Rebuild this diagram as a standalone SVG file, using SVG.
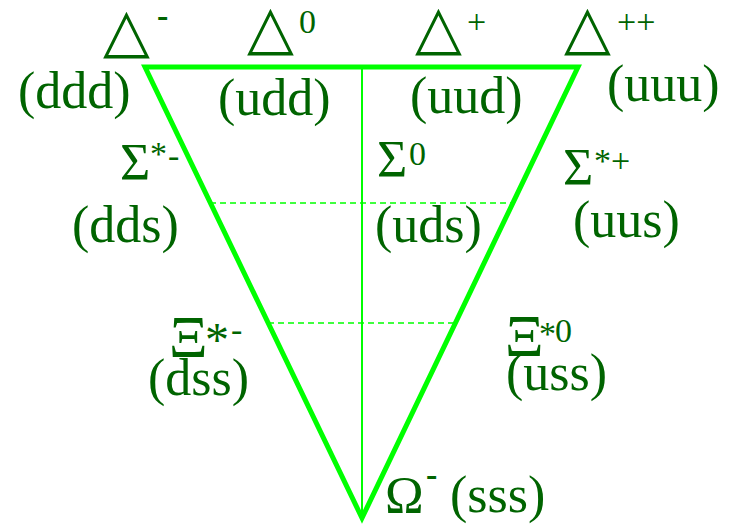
<svg xmlns="http://www.w3.org/2000/svg" width="729" height="525" viewBox="0 0 729 525">
<style>
.t{font-family:"Liberation Serif","Times New Roman",serif;fill:#006400;font-size:52px}
.x{font-size:60px}
.s{font-family:"Liberation Serif","Times New Roman",serif;fill:#006400;font-size:34px}
.b{font-weight:bold}
.d{font-family:"DejaVu Sans",sans-serif;fill:#006400;font-size:61px}
.edge{fill:none;stroke:#00ff00;stroke-width:5;stroke-linejoin:miter}
.mid{stroke:#00ff00;stroke-width:2}
.dash{stroke:#00ff00;stroke-width:1.5;stroke-dasharray:6,4}
</style>
<rect width="729" height="525" fill="#ffffff"/>
<g id="connectors">
<polygon class="edge" points="145,67 578,67 362,518"/>
<line class="mid" x1="362" y1="67" x2="362" y2="518"/>
<line class="dash" x1="210" y1="203" x2="513" y2="203"/>
<line class="dash" x1="268" y1="323" x2="455" y2="323"/>
</g>
<g id="delta-minus">
<text class="d" x="103" y="51">△</text>
<text class="s b" x="157" y="27">-</text>
<text class="t" x="18" y="108">(ddd)</text>
</g>
<g id="delta-zero">
<text class="d" x="247" y="48">△</text>
<text class="s" x="299" y="33">0</text>
<text class="t" x="218" y="115">(udd)</text>
</g>
<g id="delta-plus">
<text class="d" x="415" y="48">△</text>
<text class="s" x="467" y="33">+</text>
<text class="t" x="410" y="113">(uud)</text>
</g>
<g id="delta-plusplus">
<text class="d" x="564" y="48">△</text>
<text class="s" x="617" y="33">++</text>
<text class="t" x="607" y="101">(uuu)</text>
</g>
<g id="sigma-minus">
<text class="t" x="120" y="180">Σ</text>
<text class="s" x="150" y="165">*</text>
<text class="s" x="168" y="167">-</text>
<text class="t" x="72" y="242">(dds)</text>
</g>
<g id="sigma-zero">
<text class="t" x="377" y="177">Σ</text>
<text class="s" x="409" y="165">0</text>
<text class="t" x="375" y="242">(uds)</text>
</g>
<g id="sigma-plus">
<text class="t" x="563" y="185">Σ</text>
<text class="s" x="594" y="172">*</text>
<text class="s" x="611" y="172">+</text>
<text class="t" x="573" y="237">(uus)</text>
</g>
<g id="xi-minus">
<text class="t x" x="169" y="357">Ξ</text>
<text class="t" x="205" y="356" style="font-size:48px">*</text>
<text class="s" x="231" y="341">-</text>
<text class="t" x="148" y="395">(dss)</text>
</g>
<g id="xi-zero">
<text class="t x" x="505" y="356">Ξ</text>
<text class="s" x="539" y="345">*</text>
<text class="s" x="555" y="342">0</text>
<text class="t" x="506" y="390">(uss)</text>
</g>
<g id="omega-minus">
<text class="t" x="385" y="513">Ω</text>
<text class="s b" x="426" y="486">-</text>
<text class="t" x="450" y="512">(sss)</text>
</g>
</svg>
